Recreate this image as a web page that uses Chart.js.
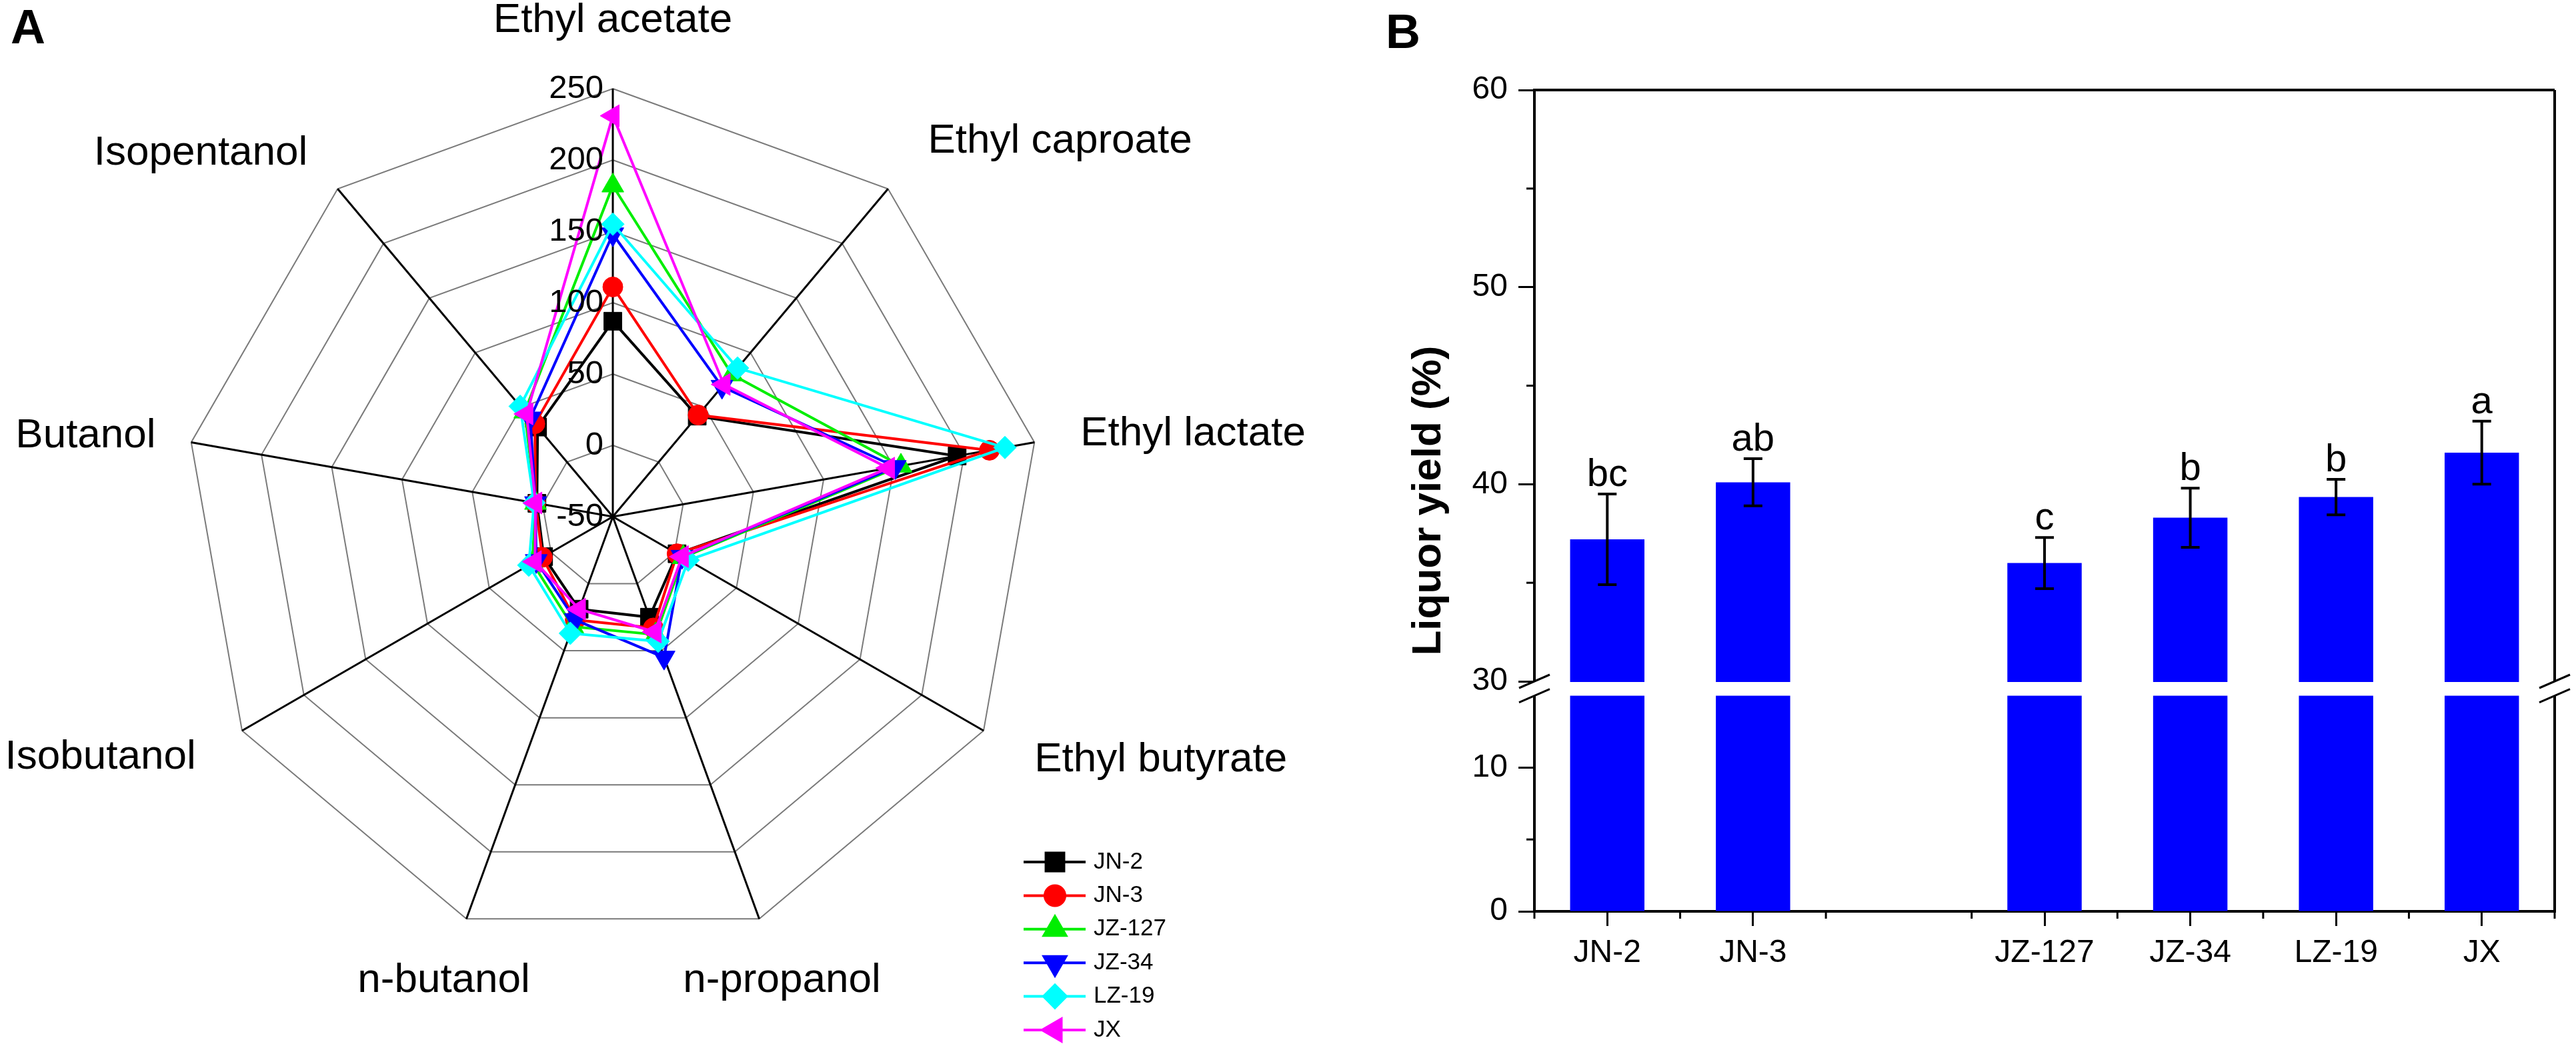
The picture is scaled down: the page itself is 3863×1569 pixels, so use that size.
<!DOCTYPE html>
<html>
<head>
<meta charset="utf-8">
<script src="https://cdn.jsdelivr.net/npm/chart.js@4.4.1/dist/chart.umd.min.js"></script>
<style>
  html, body { margin: 0; padding: 0; background: #fff; overflow: hidden; }
  #wrap { position: relative; width: 3863px; height: 1569px; }
  canvas { position: absolute; top: 0; }
  #cA { left: 0; }
  #cB { left: 1950px; }
  .tag { position: absolute; font: bold 72px "Liberation Sans", Arial, sans-serif; line-height: 1; }
</style>
</head>
<body>
<div id="wrap">
  <canvas id="cA" width="2050" height="1569"></canvas>
  <canvas id="cB" width="1913" height="1569"></canvas>
  <div class="tag" style="left:16px;top:4px">A</div>
  <div class="tag" style="left:2078px;top:11px">B</div>
</div>
<script>
// ---- panel A data: flavour compounds per strain ----
var compounds = ['Ethyl acetate', 'Ethyl caproate', 'Ethyl lactate', 'Ethyl butyrate',
                 'n-propanol', 'n-butanol', 'Isobutanol', 'Butanol', 'Isopentanol'];
var strains = ['JN-2', 'JN-3', 'JZ-127', 'JZ-34', 'LZ-19', 'JX'];
var jn2   = [87, 42, 195, 2, 25, 19, 6, 4, 32];
var jn3   = [111, 43, 218, 2, 33, 27, 7, 5, 35];
var jz127 = [182, 80, 155, 7, 38, 32, 15, 5, 46];
var jz34  = [148, 69, 151, 6, 55, 27, 12, 5, 40];
var lz19  = [155, 86, 229, 11, 43, 37, 18, 6, 51];
var jx    = [231, 71, 146, 6, 36, 19, 13, 5, 44];
var radarMin = -50, radarMax = 250, radarStep = 50;

// ---- panel B data: liquor yield ----
var yieldStrains = ['JN-2', 'JN-3', '', 'JZ-127', 'JZ-34', 'LZ-19', 'JX'];
var yieldMean    = [37.2, 40.1, null, 36.0, 38.3, 39.35, 41.6];
var yieldSd      = [2.3, 1.2, null, 1.3, 1.5, 0.9, 1.6];
var yieldLetters = ['bc', 'ab', '', 'c', 'b', 'b', 'a'];
var yMinorTicks  = [5, 35, 45, 55];

var FONT = '"Liberation Sans", Arial, sans-serif';

// series look (colour, marker, size, rotation)
var series = [jn2, jn3, jz127, jz34, lz19, jx];
var colors = ['#000000', '#ff0000', '#00ee00', '#0000ff', '#00ffff', '#ff00ff'];
var marks  = ['rect', 'circle', 'triangle', 'triangle', 'rectRot', 'triangle'];
var sizes  = [19, 15, 19, 19, 17, 19];
var turns  = [0, 0, 0, 180, 0, 270];
var labelGap = [102, 93, 70, 88, 99, 99, 80, 54, 70];

function marker(ctx, style, rot, rad, x, y, col) {
  ctx.fillStyle = col; ctx.strokeStyle = col;
  Chart.helpers.drawPoint(ctx, {pointStyle: style, rotation: rot, radius: rad, borderWidth: 1}, x, y);
}

var radarText = {
  id: 'radarText',
  afterDraw: function (chart) {
    var ctx = chart.ctx, r = chart.scales.r;
    ctx.save();
    ctx.fillStyle = '#000';
    ctx.font = '49px ' + FONT;
    ctx.textAlign = 'right';
    ctx.textBaseline = 'middle';
    r.ticks.forEach(function (t) {
      ctx.fillText(String(t.value), r.xCenter - 14, r.yCenter - r.getDistanceFromCenterForValue(t.value));
    });
    ctx.font = '62px ' + FONT;
    compounds.forEach(function (name, i) {
      var p = r.getPointPosition(i, r.drawingArea + labelGap[i]);
      var c = Math.cos(r.getIndexAngle(i) - Math.PI / 2);
      ctx.textAlign = Math.abs(c) < 0.4 ? 'center' : (c > 0 ? 'left' : 'right');
      ctx.fillText(name, p.x, p.y);
    });
    // legend: line - marker - line, name
    ctx.font = '35px ' + FONT;
    ctx.textAlign = 'left';
    strains.forEach(function (s, i) {
      var y = 1293 + i * 50.4;
      ctx.strokeStyle = colors[i];
      ctx.lineWidth = 4;
      ctx.beginPath(); ctx.moveTo(1535, y); ctx.lineTo(1628, y); ctx.stroke();
      marker(ctx, marks[i], turns[i], sizes[i], 1582, y, colors[i]);
      ctx.fillStyle = '#000';
      ctx.fillText(s, 1640, y);
    });
    ctx.restore();
  }
};

new Chart(document.getElementById('cA'), {
  type: 'radar',
  data: {
    labels: compounds,
    datasets: strains.map(function (s, i) {
      return {
        label: s,
        data: series[i],
        borderColor: colors[i],
        backgroundColor: colors[i],
        borderWidth: 4,
        fill: false,
        pointStyle: marks[i],
        pointRotation: turns[i],
        pointRadius: sizes[i],
        pointBorderWidth: 1,
        order: strains.length - i
      };
    })
  },
  options: {
    responsive: false,
    animation: false,
    devicePixelRatio: 1,
    layout: { padding: { left: 277, top: 133, right: 489, bottom: 152 } },
    plugins: { legend: { display: false }, tooltip: { enabled: false } },
    scales: {
      r: {
        min: radarMin,
        max: radarMax,
        ticks: { stepSize: radarStep, display: false },
        pointLabels: { display: false },
        grid: { color: '#7a7a7a', lineWidth: 2 },
        angleLines: { color: '#000', lineWidth: 3 }
      }
    }
  },
  plugins: [radarText]
});

// ---- panel B ----
var LOW_MAX = 16, LOW_SHOWN = 15;

var breakAxis = {
  id: 'breakAxis',
  afterDraw: function (chart) {
    var ctx = chart.ctx, a = chart.chartArea;
    var x = chart.scales.x, hi = chart.scales.yHigh, lo = chart.scales.yLow;
    var gapTop = hi.getPixelForValue(hi.min), gapBot = lo.getPixelForValue(LOW_SHOWN);
    ctx.save();
    // white gap through bars and axes
    ctx.fillStyle = '#fff';
    ctx.fillRect(a.left - 4, gapTop + 1, a.right - a.left + 8, gapBot - gapTop - 1);
    // frame top and right
    ctx.strokeStyle = '#000';
    ctx.lineWidth = 4;
    ctx.beginPath();
    ctx.moveTo(a.left - 2, a.top); ctx.lineTo(a.right, a.top);
    ctx.moveTo(a.right, a.top); ctx.lineTo(a.right, gapTop);
    ctx.moveTo(a.right, gapBot); ctx.lineTo(a.right, a.bottom + 2);
    ctx.stroke();
    // break marks
    ctx.lineWidth = 3;
    [a.left, a.right].forEach(function (bx) {
      [gapTop, gapBot].forEach(function (by) {
        ctx.beginPath(); ctx.moveTo(bx - 23, by + 10); ctx.lineTo(bx + 23, by - 10); ctx.stroke();
      });
    });
    // minor ticks
    yMinorTicks.forEach(function (v) {
      var sc = v < LOW_MAX ? lo : hi;
      var py = sc.getPixelForValue(v);
      ctx.beginPath(); ctx.moveTo(a.left, py); ctx.lineTo(a.left - 12, py); ctx.stroke();
    });
    for (var i = 0; i <= yieldStrains.length; i++) {
      var px = i === 0 ? a.left : (i === yieldStrains.length ? a.right
        : (x.getPixelForValue(i - 1) + x.getPixelForValue(i)) / 2);
      ctx.beginPath(); ctx.moveTo(px, a.bottom); ctx.lineTo(px, a.bottom + 11); ctx.stroke();
    }
    // error bars and letters
    ctx.lineWidth = 4;
    ctx.fillStyle = '#000';
    ctx.font = '58px ' + FONT;
    ctx.textAlign = 'center';
    ctx.textBaseline = 'alphabetic';
    yieldMean.forEach(function (m, i) {
      if (m == null) return;
      var cx = x.getPixelForValue(i);
      var t = hi.getPixelForValue(m + yieldSd[i]), b = hi.getPixelForValue(m - yieldSd[i]);
      ctx.beginPath();
      ctx.moveTo(cx, t); ctx.lineTo(cx, b);
      ctx.moveTo(cx - 14, t); ctx.lineTo(cx + 14, t);
      ctx.moveTo(cx - 14, b); ctx.lineTo(cx + 14, b);
      ctx.stroke();
      ctx.fillText(yieldLetters[i], cx, t - 12);
    });
    // y title
    ctx.translate(193, (a.top + a.bottom) / 2);
    ctx.rotate(-Math.PI / 2);
    ctx.font = 'bold 62px ' + FONT;
    ctx.textBaseline = 'middle';
    ctx.fillText('Liquor yield (%)', 0, 0);
    ctx.restore();
  }
};

var axisGrid = { drawOnChartArea: false, tickLength: 24, tickWidth: 3, tickColor: '#000' };
var tickFont = { family: FONT, size: 48 };

new Chart(document.getElementById('cB'), {
  type: 'bar',
  data: {
    labels: yieldStrains,
    datasets: [
      {
        data: yieldMean.map(function (v) { return v == null ? null : Math.min(v, LOW_MAX); }),
        yAxisID: 'yLow',
        backgroundColor: '#0000ff',
        barPercentage: 0.51,
        categoryPercentage: 1,
        grouped: false
      },
      {
        data: yieldMean,
        yAxisID: 'yHigh',
        backgroundColor: '#0000ff',
        barPercentage: 0.51,
        categoryPercentage: 1,
        grouped: false
      }
    ]
  },
  options: {
    responsive: false,
    animation: false,
    devicePixelRatio: 1,
    layout: { padding: { left: 241, top: 135, right: 32, bottom: 92 } },
    plugins: { legend: { display: false }, tooltip: { enabled: false } },
    scales: {
      x: {
        type: 'category',
        offset: true,
        grid: {
          offset: false, drawOnChartArea: false, tickLength: 22, tickWidth: 3,
          tickColor: function (c) { return yieldStrains[c.index] ? '#000' : 'rgba(0,0,0,0)'; }
        },
        border: { color: '#000', width: 4 },
        ticks: { color: '#000', font: tickFont, padding: 12, maxRotation: 0, autoSkip: false },
        afterFit: function (s) { s.height = 110; }
      },
      yLow: {
        position: 'left',
        stack: 'y',
        stackWeight: 345,
        min: 0,
        max: LOW_MAX,
        grid: axisGrid,
        border: { color: '#000', width: 4 },
        ticks: { stepSize: 10, includeBounds: false, color: '#000', font: tickFont, padding: 16 },
        afterFit: function (s) { s.width = 110; }
      },
      yHigh: {
        position: 'left',
        stack: 'y',
        stackWeight: 887,
        min: 30,
        max: 60,
        grid: axisGrid,
        border: { color: '#000', width: 4 },
        ticks: { stepSize: 10, color: '#000', font: tickFont, padding: 16 },
        afterFit: function (s) { s.width = 110; }
      }
    }
  },
  plugins: [breakAxis]
});
</script>
</body>
</html>
